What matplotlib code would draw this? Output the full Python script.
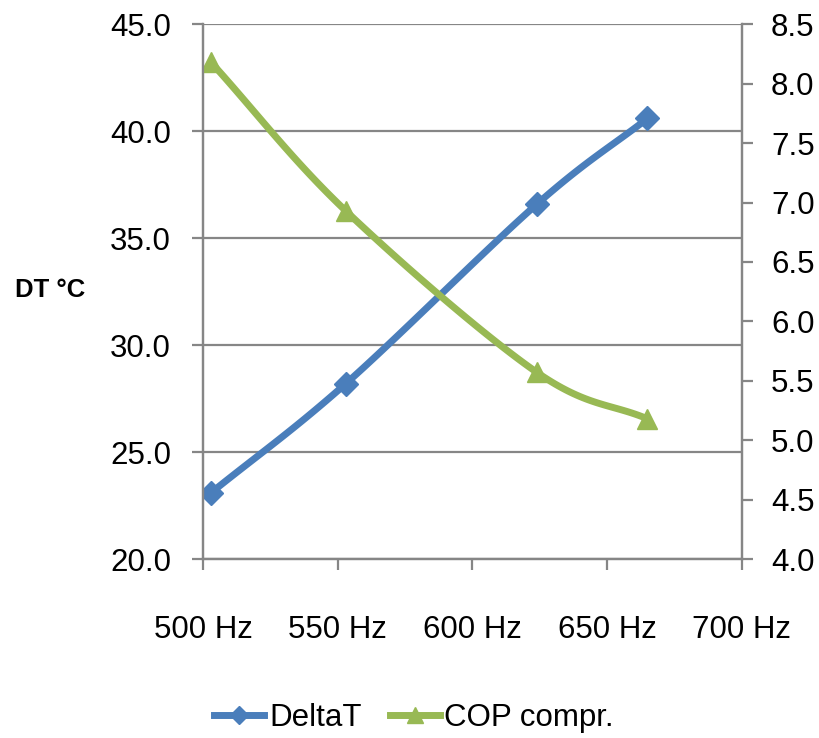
import matplotlib.pyplot as plt
import numpy as np

plt.rcParams['font.family'] = ['Liberation Sans', 'DejaVu Sans']

freq = [503, 553, 624, 665]
delta_t = [23.1, 28.2, 36.6, 40.6]
cop = [8.18, 6.93, 5.57, 5.18]

x_ticks = [500, 550, 600, 650, 700]
x_labels = ['500 Hz', '550 Hz', '600 Hz', '650 Hz', '700 Hz']
left_ticks = [20, 25, 30, 35, 40, 45]
right_ticks = [4.0, 4.5, 5.0, 5.5, 6.0, 6.5, 7.0, 7.5, 8.0, 8.5]

blue = '#4a7ebb'
green = '#98b954'
grid = '#868686'


def smooth(x, y, n=40):
    # Catmull-Rom curve through the points, like the smoothed line option in Excel
    x = np.asarray(x, float)
    y = np.asarray(y, float)
    px = np.concatenate([[2 * x[0] - x[1]], x, [2 * x[-1] - x[-2]]])
    py = np.concatenate([[2 * y[0] - y[1]], y, [2 * y[-1] - y[-2]]])
    t = np.linspace(0, 1, n)
    xs, ys = [], []
    for i in range(1, len(px) - 2):
        for p, out in ((px, xs), (py, ys)):
            p0, p1, p2, p3 = p[i - 1], p[i], p[i + 1], p[i + 2]
            out.extend(0.5 * (2 * p1 + (-p0 + p2) * t
                              + (2 * p0 - 5 * p1 + 4 * p2 - p3) * t ** 2
                              + (-p0 + 3 * p1 - 3 * p2 + p3) * t ** 3))
    return xs, ys


fig = plt.figure(figsize=(8.2, 7.38), dpi=100)
ax = fig.add_axes([0.2476, 0.2425, 0.657, 0.7245])
ax2 = ax.twinx()

sx, sy = smooth(freq, delta_t)
ax.plot(sx, sy, color=blue, lw=5, solid_capstyle='round')
ax.plot(freq, delta_t, 'D', color=blue, ms=12.5)
sx, sy = smooth(freq, cop)
ax2.plot(sx, sy, color=green, lw=5, solid_capstyle='round')
ax2.plot(freq, cop, '^', color=green, ms=15)

ax.set_xlim(500, 700)
ax.set_ylim(20, 45)
ax2.set_ylim(4.0, 8.5)
ax.set_yticks(left_ticks)
ax2.set_yticks(right_ticks)
ax.set_yticklabels([f'{v:.1f}' for v in left_ticks])
ax2.set_yticklabels([f'{v:.1f}' for v in right_ticks])
ax.set_xticks(x_ticks)
ax.set_xticklabels(x_labels)

ax.yaxis.grid(True, color=grid, lw=1.6)
ax.set_axisbelow(True)
for a in (ax, ax2):
    for s in a.spines.values():
        s.set_color(grid)
        s.set_linewidth(1.6)
    a.spines['top'].set_visible(False)
    a.tick_params(colors=grid, labelcolor='black', labelsize=22.5, length=8, width=1.6)
ax.tick_params(axis='x', pad=32)
ax.tick_params(axis='y', pad=15)
ax2.tick_params(axis='y', pad=13)

fig.text(0.018, 0.607, 'DT °C', fontsize=18.5, fontweight='bold', va='center', ha='left')

h1 = plt.Line2D([], [], color=blue, lw=5, marker='D', ms=9)
h2 = plt.Line2D([], [], color=green, lw=5, marker='^', ms=12)
fig.legend([h1, h2], ['DeltaT', 'COP compr.'], loc='center', bbox_to_anchor=(0.505, 0.027),
           ncol=2, frameon=False, fontsize=22.5, handlelength=1.6, handletextpad=0.15,
           columnspacing=0.9)

fig.savefig('out.png', dpi=100)
